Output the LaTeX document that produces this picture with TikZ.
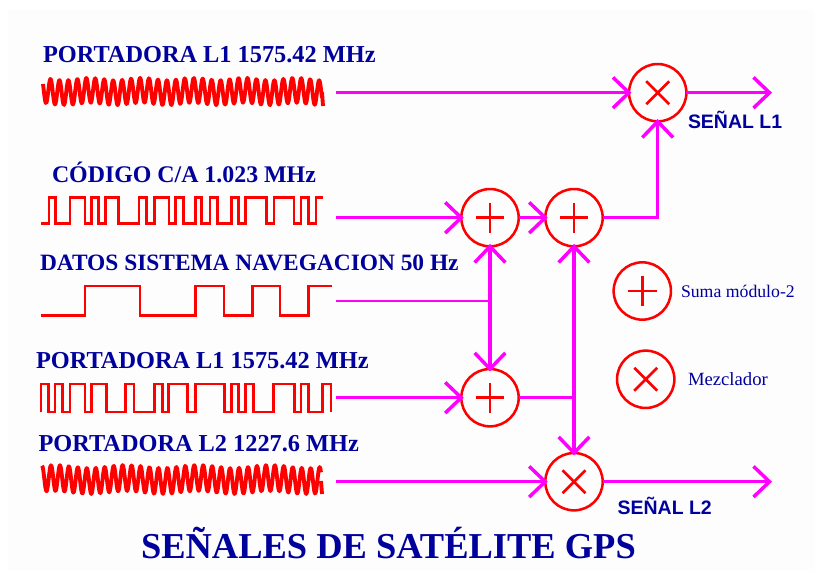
\documentclass[tikz,border=0pt]{standalone}
\usepackage{fontspec}
\setmainfont{Liberation Serif}
\newfontfamily\lsans{Liberation Sans}
\usetikzlibrary{arrows.meta}
\definecolor{txtblue}{HTML}{00009C}
\definecolor{mag}{HTML}{FF00FF}
\definecolor{bgc}{HTML}{FDFDFD}
\tikzset{
  x=0.75pt,y=-0.75pt,
  lab/.style={anchor=base west,inner sep=0pt,outer sep=0pt,text=txtblue,font=\bfseries\fontsize{#1}{#1}\selectfont},
  lsn/.style={anchor=base west,inner sep=0pt,outer sep=0pt,text=txtblue,font=\lsans\bfseries\fontsize{#1}{#1}\selectfont},
  leg/.style={anchor=base west,inner sep=0pt,outer sep=0pt,text=txtblue,font=\fontsize{#1}{#1}\selectfont},
  opc/.style={circle,draw=red,line width=1.9pt,fill=bgc,minimum size=43pt,inner sep=0pt,outer sep=0pt},
  addop/.style={opc,path picture={\draw[red,line width=2pt]
     ([xshift=-10.8pt]path picture bounding box.center)--([xshift=10.8pt]path picture bounding box.center)
     ([yshift=-11.3pt]path picture bounding box.center)--([yshift=11.3pt]path picture bounding box.center);}},
  mixop/.style={opc,path picture={\draw[red,line width=2pt]
     ([xshift=-8.6pt,yshift=-8.6pt]path picture bounding box.center)--([xshift=8.6pt,yshift=8.6pt]path picture bounding box.center)
     ([xshift=-8.6pt,yshift=8.6pt]path picture bounding box.center)--([xshift=8.6pt,yshift=-8.6pt]path picture bounding box.center);}},
  conn/.style={draw=mag,line width=2.3pt},
  thinconn/.style={draw=mag,line width=0.9pt},
  arr/.style={conn,shorten >=-1.8pt,-{Straight Barb[length=12pt,width=23pt,line width=2.6pt]}},
  outarr/.style={conn,-{Straight Barb[length=12pt,width=23pt,line width=2.6pt]}},
  sq/.style={draw=red,line width=2.2pt,line join=miter},
  wave/.style={draw=red,line width=2.9pt,line join=round},
}
\begin{document}
\begin{tikzpicture}
\useasboundingbox (0,0) rectangle (823,580);
\fill[white] (0,0) rectangle (823,580);
\fill[bgc] (8,9) rectangle (815,571);

% labels
\node[lab=18.25] (t1) at (43,62.3) {PORTADORA L1 1575.42 MHz};
\node[lab=17.9] (t2) at (52,182.7) {CÓDIGO C/A 1.023 MHz};
\node[lab=17.55] (t3) at (40,270.7) {DATOS SISTEMA NAVEGACION 50 Hz};
\node[lab=18.25] (t4) at (36,368.7) {PORTADORA L1 1575.42 MHz};
\node[lab=18.25] (t5) at (38.5,451.3) {PORTADORA L2 1227.6 MHz};
\node[lab=27.35] (title) at (141,558.3) {SEÑALES DE SATÉLITE GPS};
\node[lsn=14.6] (s1) at (688,129) {SEÑAL L1};
\node[lsn=14.6] (s2) at (617.7,514) {SEÑAL L2};
\node[leg=13.3] (lg1) at (681,297.3) {Suma módulo-2};
\node[leg=14] (lg2) at (688,385.7) {Mezclador};

% waveforms
\draw[wave] plot[domain=43:322,samples=420] (\x,{91.5+12.5*sin(\x*40.2+40)+1.2*sin(\x*7)});
\draw[wave] (322,92)--(323,106);
\draw[wave] plot[domain=42:321,samples=420] (\x,{479.5+13*sin(\x*40.2+20)+1.5*sin(\x*5)});
\draw[wave] (321,481)--(322,494);

\draw[sq] (41,223.3)-|(49,197.3)-|(55.7,223.3)-|(70,197.3)-|(85,223.3)-|(91.7,197.3)-|(98.3,223.3)-|(105.7,197.3)-|(118.3,223.3)-|(139,197.3)-|(146.7,223.3)-|(154.3,197.3)-|(169,223.3)-|(175.7,197.3)-|(183.3,223.3)-|(195.7,197.3)-|(201.7,223.3)-|(210,197.3)-|(217.3,223.3)-|(231.7,197.3)-|(238.3,223.3)-|(245.7,197.3)-|(266.7,223.3)-|(274,197.3)-|(294,223.3)-|(301,197.3)-|(308.3,223.3)-|(316,197.3)--(323,197.3);

\draw[sq] (40.7,315.7)-|(85,286)-|(140,315.7)-|(195.7,286)-|(224,315.7)-|(252.3,286)-|(280,315.7)-|(308.3,286)--(331.7,286);

\draw[sq] (41,412)|-(48.3,384)|-(55,412)|-(62.3,384)|-(70,412)|-(85,384)|-(91.7,412)|-(106.7,384)|-(125.7,412)|-(134,384)|-(154.3,412)|-(162.3,384)|-(168.3,412)|-(187.7,384)|-(195.7,412)|-(224.3,384)|-(231.7,412)|-(238.3,384)|-(245.7,412)|-(253.3,384)|-(273.3,412)|-(294.3,384)|-(301,412)|-(308.3,384)|-(322.3,412)|-(331,384)--(331,412);

% operators
\node[mixop] (m1) at (657.7,92.7) {};
\node[addop] (a1) at (490,217.7) {};
\node[addop] (a2) at (574,217.7) {};
\node[addop] (a3) at (490,397.7) {};
\node[mixop] (m2) at (574,481.7) {};
\node[addop] (la) at (642.3,291) {};
\node[mixop] (lm) at (645.7,379.3) {};

% free ends and junctions
\coordinate (i1) at (336,92.7);
\coordinate (o1) at (772,92.7);
\coordinate (i2) at (336,217.7);
\coordinate (i3) at (336,301);
\coordinate (j1) at (490,301);
\coordinate (i4) at (336,397.7);
\coordinate (j2) at (574,397.7);
\coordinate (i5) at (336,481.7);
\coordinate (o2) at (772,481.7);

% connectors
\draw[arr] (i1) -- (m1);
\draw[outarr] (m1) -- (o1);
\draw[arr] (i2) -- (a1);
\draw[arr] (a1) -- (a2);
\draw[arr] (a2) -| (m1);
\draw[thinconn] (i3) -- (j1);
\draw[arr] (j1) -- (a1);
\draw[arr] (j1) -- (a3);
\draw[arr] (i4) -- (a3);
\draw[conn] (a3) -- (j2);
\draw[arr] (j2) -- (a2);
\draw[arr] (j2) -- (m2);
\draw[arr] (i5) -- (m2);
\draw[outarr] (m2) -- (o2);
\end{tikzpicture}
\end{document}
